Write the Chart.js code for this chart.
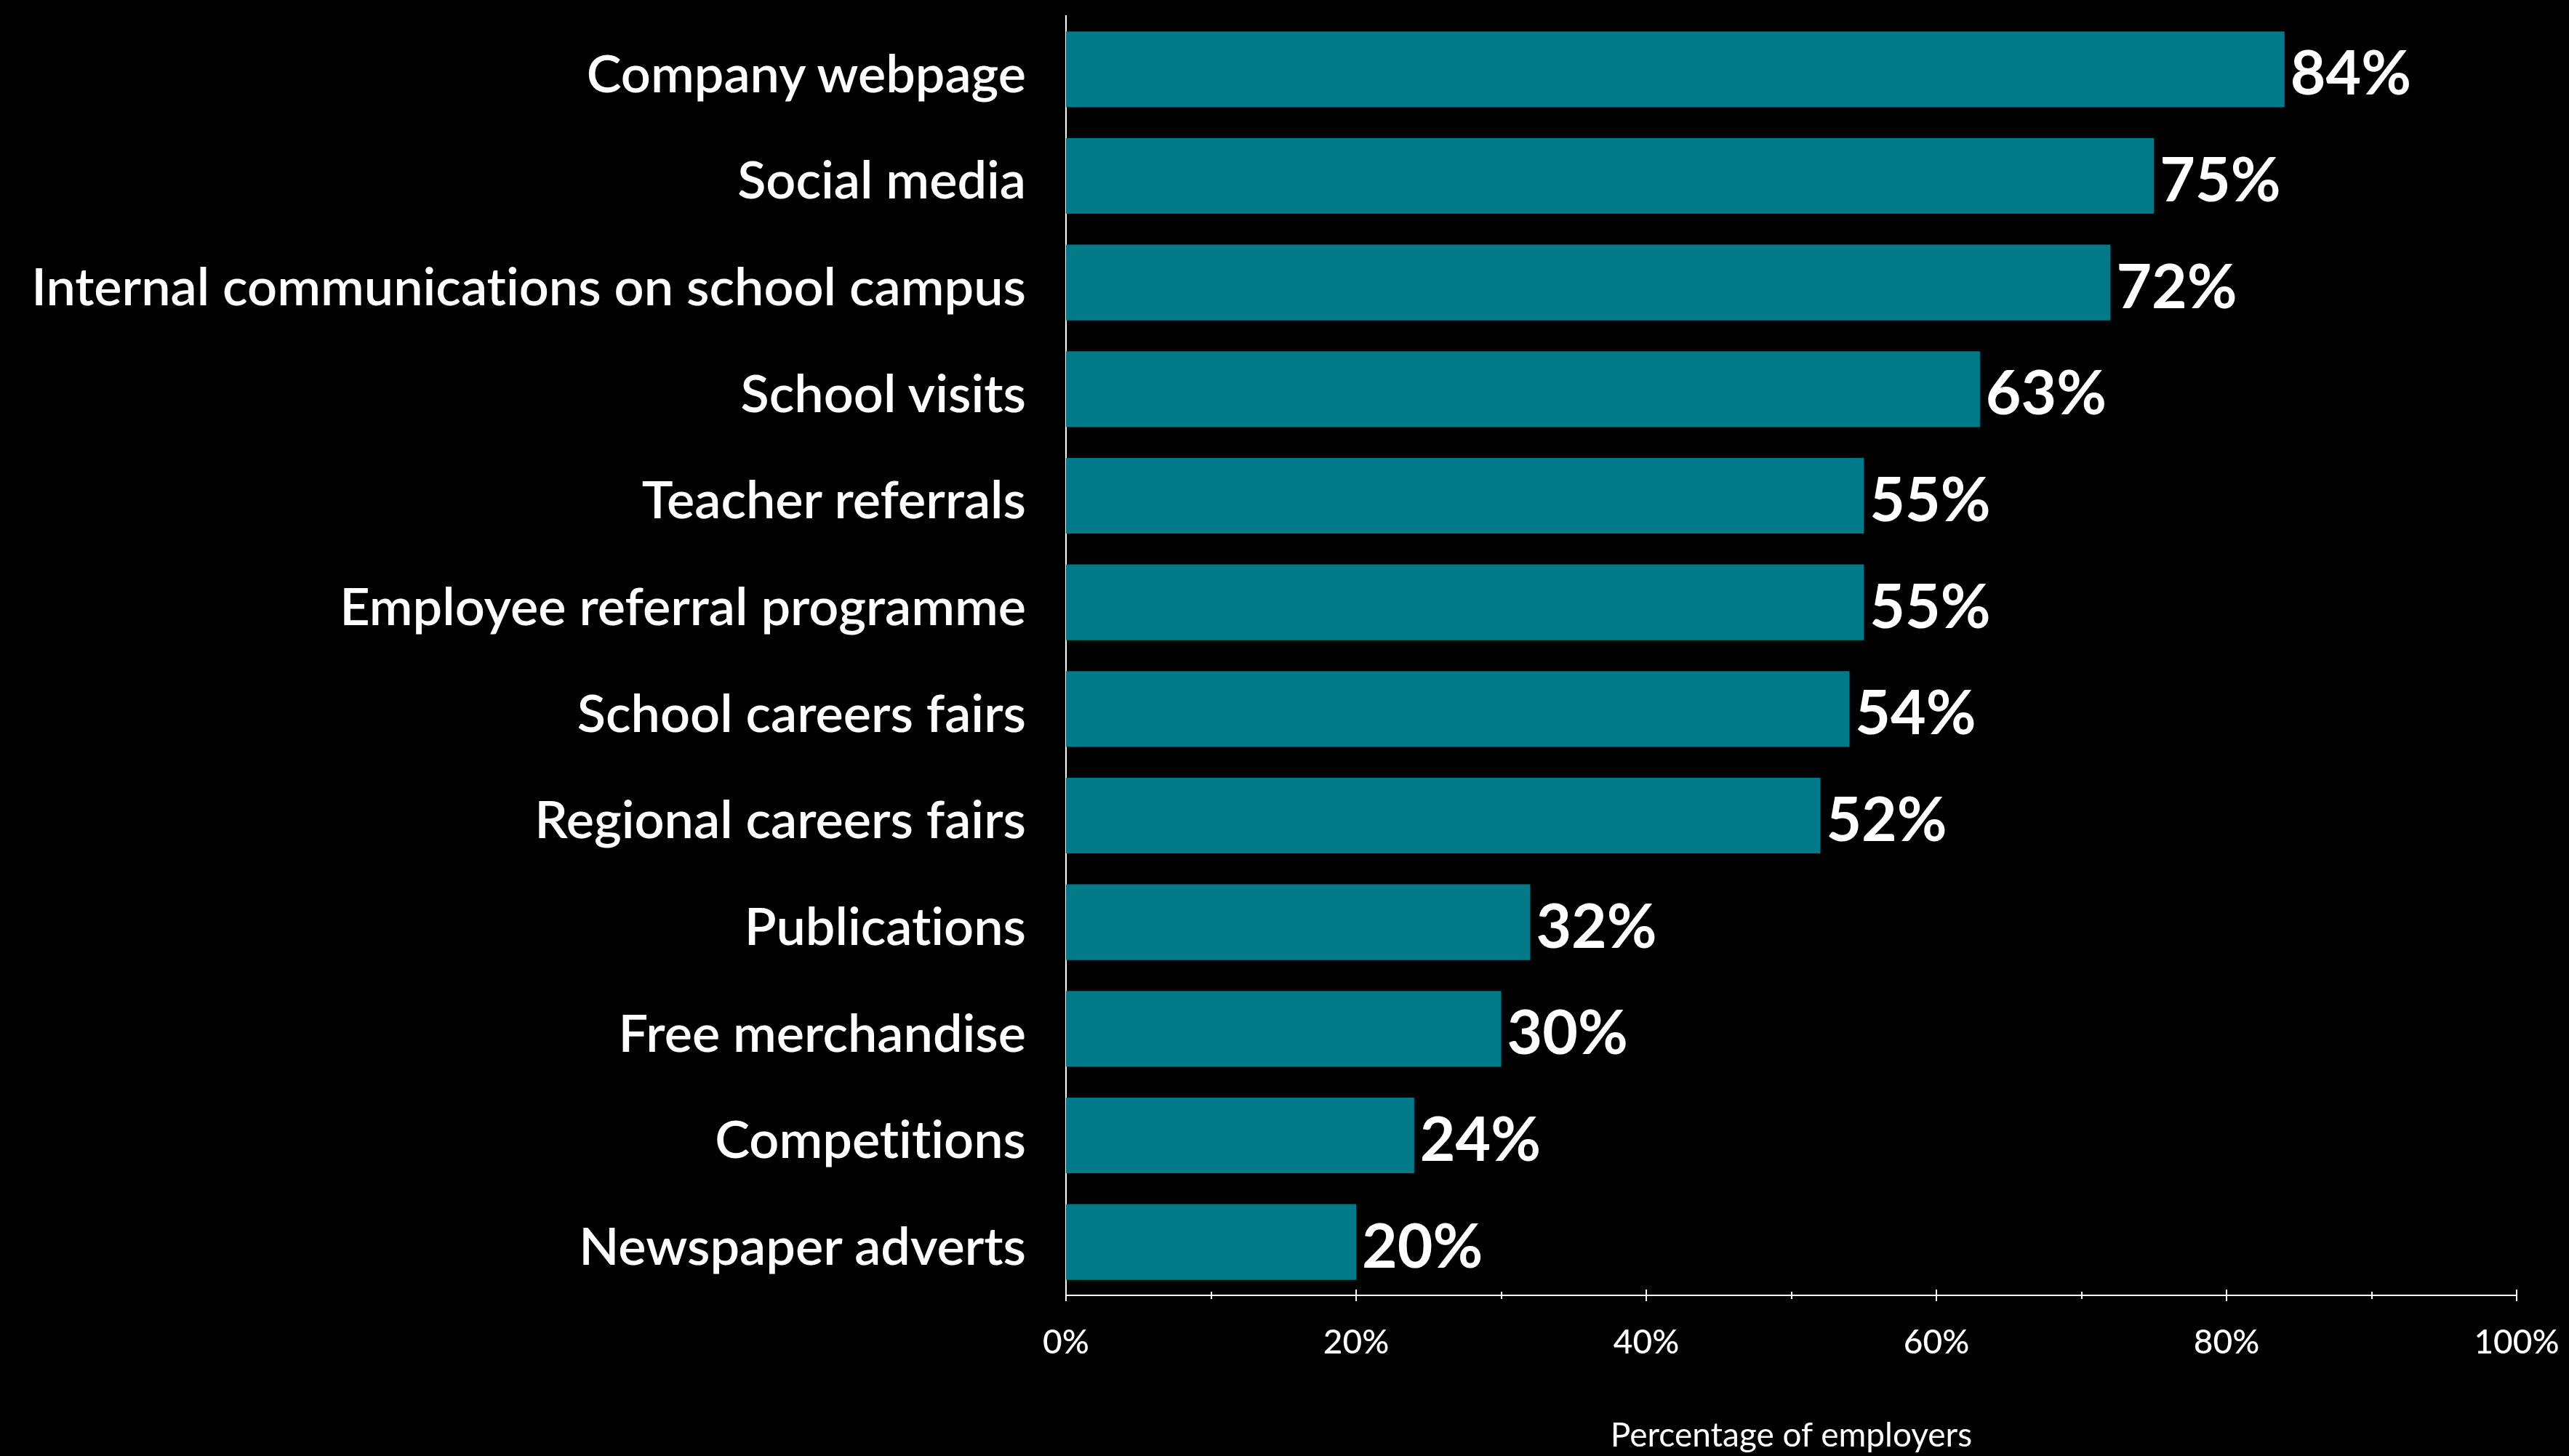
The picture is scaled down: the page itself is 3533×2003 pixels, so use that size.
<!DOCTYPE html>
<html>
<head>
<meta charset="utf-8">
<script src="https://cdn.jsdelivr.net/npm/chart.js@4.4.1/dist/chart.umd.min.js"></script>
<style>
  html, body { margin: 0; padding: 0; background: #000; }
  #wrap { width: 3533px; height: 2003px; }
  canvas { font-variant-ligatures: none; }
</style>
</head>
<body>
<div id="wrap"><canvas id="c" width="3533" height="2003"></canvas></div>
<script>
const categories = [
  "Company webpage",
  "Social media",
  "Internal communications on school campus",
  "School visits",
  "Teacher referrals",
  "Employee referral programme",
  "School careers fairs",
  "Regional careers fairs",
  "Publications",
  "Free merchandise",
  "Competitions",
  "Newspaper adverts"
];
const values = [84, 75, 72, 63, 55, 55, 54, 52, 32, 30, 24, 20];
const xTickValues = [0, 20, 40, 60, 80, 100];
const xTickLabels = ["0%", "20%", "40%", "60%", "80%", "100%"];
const axisTitle = "Percentage of employers";

const FONT = "Lato, 'Open Sans', sans-serif";
const BAR = "#007A89";

const noLigatures = {
  id: "noLigatures",
  beforeDraw(chart) {
    const ctx = chart.ctx;
    try { ctx.textRendering = "optimizeSpeed"; } catch (e) {}
    try { ctx.fontKerning = "normal"; } catch (e) {}
  }
};

const valueLabels = {
  id: "valueLabels",
  afterDatasetsDraw(chart) {
    const ctx = chart.ctx;
    const meta = chart.getDatasetMeta(0);
    ctx.save();
    try { ctx.textRendering = "optimizeSpeed"; } catch (e) {}
    ctx.fillStyle = "#ffffff";
    ctx.font = "700 84px " + FONT;
    ctx.textAlign = "left";
    ctx.textBaseline = "alphabetic";
    meta.data.forEach((bar, i) => {
      ctx.fillText(values[i] + "%", bar.x + 8, bar.y + 35);
    });
    ctx.restore();
  }
};

const axisTicks = {
  id: "axisTicks",
  afterDraw(chart) {
    const ctx = chart.ctx;
    const xs = chart.scales.x;
    const y0 = chart.chartArea.bottom;
    ctx.save();
    ctx.strokeStyle = "#ffffff";
    ctx.lineWidth = 2;
    for (let v = xs.min; v <= xs.max; v += 10) {
      const px = Math.round(xs.getPixelForValue(v));
      const major = v % 20 === 0;
      const h = major ? 8 : 5;
      ctx.beginPath();
      ctx.moveTo(px, y0 - h);
      ctx.lineTo(px, y0 + h);
      ctx.stroke();
    }
    ctx.restore();
  }
};

function zeroPad(scale) {
  scale.paddingTop = 0;
  scale.paddingBottom = 0;
  scale.paddingLeft = 0;
  scale.paddingRight = 0;
}

new Chart(document.getElementById("c"), {
  type: "bar",
  data: {
    labels: categories,
    datasets: [{
      data: values,
      backgroundColor: BAR,
      borderWidth: 0,
      categoryPercentage: 1.0,
      barPercentage: 0.71
    }]
  },
  options: {
    indexAxis: "y",
    responsive: false,
    animation: false,
    devicePixelRatio: 1,
    layout: { padding: { top: 22, right: 72, left: 0, bottom: 0 } },
    plugins: {
      legend: { display: false },
      tooltip: { enabled: false }
    },
    scales: {
      x: {
        min: 0,
        max: 100,
        afterBuildTicks(scale) {
          scale.ticks = xTickValues.map(v => ({ value: v }));
        },
        afterFit(scale) { scale.height = 221; zeroPad(scale); },
        grid: { display: false, drawTicks: false },
        border: { display: true, color: "#ffffff", width: 2 },
        ticks: {
          color: "#ffffff",
          font: { family: FONT, size: 46, weight: "500" },
          padding: 38,
          maxRotation: 0,
          callback: (v, i) => xTickLabels[i]
        },
        title: {
          display: true,
          text: axisTitle,
          color: "#ffffff",
          font: { family: FONT, size: 46, weight: "400" },
          padding: { top: 0, bottom: 0 }
        }
      },
      y: {
        afterFit(scale) { scale.width = 1466; zeroPad(scale); },
        grid: { display: false, drawTicks: false },
        border: { display: true, color: "#ffffff", width: 2 },
        ticks: {
          color: "#ffffff",
          font: { family: FONT, size: 72, weight: "600" },
          padding: 55,
          labelOffset: 8
        }
      }
    }
  },
  plugins: [noLigatures, valueLabels, axisTicks]
});
</script>
</body>
</html>
